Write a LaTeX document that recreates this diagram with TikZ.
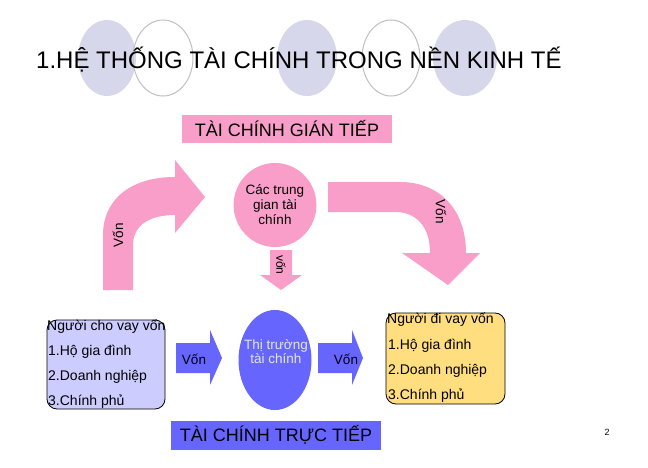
\documentclass[tikz,border=0pt]{standalone}
\usepackage{fontspec}
\usetikzlibrary{shapes.geometric}
\setmainfont{Liberation Sans}
\definecolor{pinkc}{RGB}{248,158,200}
\definecolor{lavc}{RGB}{215,215,236}
\definecolor{bluec}{RGB}{102,102,255}
\definecolor{boxl}{RGB}{204,204,255}
\definecolor{boxy}{RGB}{255,222,128}
\begin{document}
\begin{tikzpicture}[x=1pt,y=-1pt,
  deco/.style={draw=gray!50,line width=1pt},
  lbl/.style={font=\fontsize{13.5}{15}\selectfont},
  item/.style={font=\fontsize{14}{16}\selectfont,anchor=west,inner sep=0pt},
  bigbox/.style={rounded corners=10pt,draw=black,line width=0.8pt}]
\useasboundingbox (0,0) rectangle (648,468);
% decorative ellipses
\fill[lavc] (107,58) ellipse [x radius=29,y radius=38];
\draw[deco] (163,58) ellipse [x radius=30,y radius=38];
\fill[lavc] (307,58) ellipse [x radius=30,y radius=38];
\draw[deco] (391,58) ellipse [x radius=29,y radius=38];
\fill[lavc] (465,58) ellipse [x radius=32,y radius=38];
\node[anchor=west,font=\fontsize{24}{28}\selectfont,inner sep=0pt] (title) at (36,60) {1.HỆ THỐNG TÀI CHÍNH TRONG NỀN KINH TẾ};
% top
\node[fill=pinkc,minimum width=210pt,minimum height=28pt,font=\fontsize{18}{20}\selectfont,inner sep=0pt] (gt) at (287,129) {TÀI CHÍNH GIÁN TIẾP};
\fill[pinkc] (103,290) -- (103,235) .. controls (103,200) and (130,177) .. (175,177) -- (175,160) -- (205,197) -- (175,233) -- (175,215) .. controls (150,215) and (133,225) .. (133,245) -- (133,290) -- cycle;
\fill[pinkc] (328,182) -- (400,182) .. controls (440,182) and (466,210) .. (466,253) -- (480,253) -- (448,285) -- (402,253) -- (430,253) .. controls (430,225) and (415,212) .. (395,212) -- (328,212) -- cycle;
\node[lbl,rotate=90] (v1) at (118,235) {Vốn};
\node[lbl,rotate=-90] (v2) at (441,212) {Vốn};
\node[fill=pinkc,ellipse,minimum width=73pt,minimum height=84pt,inner sep=0pt,align=center,font=\fontsize{13.5}{15}\selectfont] (tg) at (275,205) {Các trung\\gian tài\\chính};
\fill[pinkc] (270,250) -- (292,250) -- (292,275) -- (302,275) -- (281,290) -- (260,275) -- (270,275) -- cycle;
\node[font=\fontsize{12}{13}\selectfont,rotate=-90] (v3) at (281,265) {vốn};
% bottom
\draw[bigbox,fill=boxl] (47,320) rectangle (165,409);
\node[item] (l0) at (47,327) {Người cho vay vốn};
\node[item] (l1) at (48,352) {1.Hộ gia đình};
\node[item] (l2) at (48,377) {2.Doanh nghiệp};
\node[item] (l3) at (48,402) {3.Chính phủ};
\draw[bigbox,fill=boxy] (386,313) rectangle (505,404);
\node[item] (r0) at (387,320) {Người đi vay vốn};
\node[item] (r1) at (388,346) {1.Hộ gia đình};
\node[item] (r2) at (388,371) {2.Doanh nghiệp};
\node[item] (r3) at (388,396) {3.Chính phủ};
\fill[bluec] (176,343) -- (210,343) -- (210,330) -- (222,358) -- (210,385) -- (210,373) -- (176,373) -- cycle;
\fill[bluec] (318,343) -- (352,343) -- (352,330) -- (363,358) -- (352,385) -- (352,373) -- (318,373) -- cycle;
\node[lbl] (a1) at (194,359) {Vốn};
\node[lbl] (a2) at (346,359) {Vốn};
\node[fill=bluec,ellipse,minimum width=73pt,minimum height=100pt,inner sep=0pt] (tt) at (275,360) {};
\node[align=center,font=\fontsize{13.5}{14}\selectfont,text=white!90!black] (ttl) at (276,352) {Thị trường\\tài chính};
\node[fill=bluec,minimum width=210pt,minimum height=29pt,font=\fontsize{18}{20}\selectfont,inner sep=0pt] (tt2) at (276,435) {TÀI CHÍNH TRỰC TIẾP};
\node[font=\fontsize{9}{10}\selectfont] (pg) at (607,432) {2};
\end{tikzpicture}
\end{document}
